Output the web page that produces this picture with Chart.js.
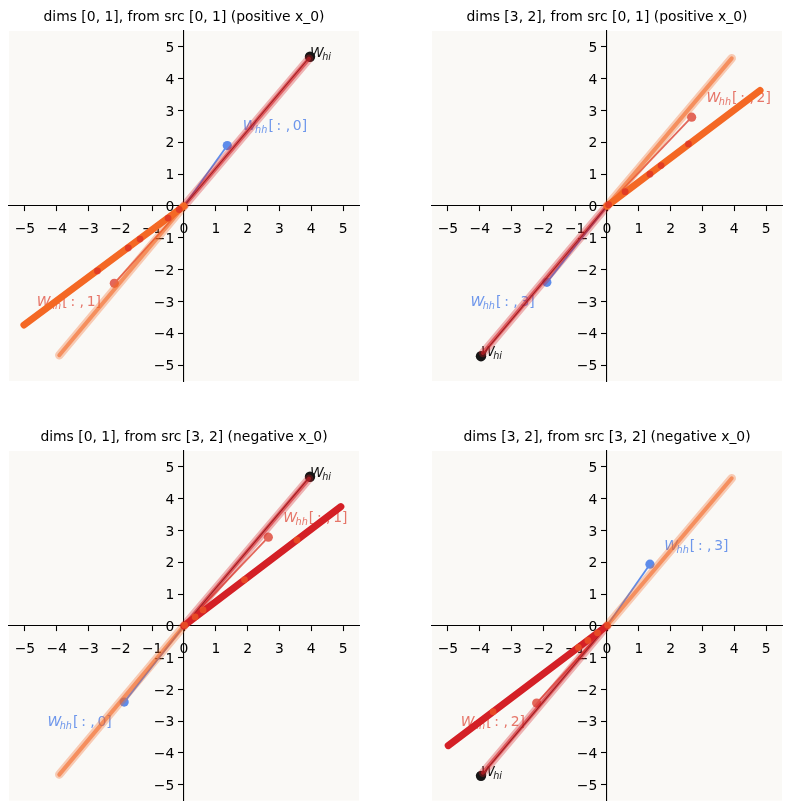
<!DOCTYPE html>
<html>
<head>
<meta charset="utf-8">
<title>hidden state trajectories</title>
<script src="https://cdn.jsdelivr.net/npm/chart.js@4.4.1/dist/chart.umd.min.js"></script>
<style>
    html, body { margin: 0; padding: 0; background: #ffffff; }
    body { width: 793px; height: 812px; position: relative; overflow: hidden; }
    canvas.panel { position: absolute; }
</style>
</head>
<body>
<canvas id="p0" class="panel" width="396" height="406" style="left:0px;top:0px;width:396px;height:406px"></canvas>
<canvas id="p1" class="panel" width="397" height="406" style="left:396px;top:0px;width:397px;height:406px"></canvas>
<canvas id="p2" class="panel" width="396" height="392" style="left:0px;top:420px;width:396px;height:392px"></canvas>
<canvas id="p3" class="panel" width="397" height="392" style="left:396px;top:420px;width:397px;height:392px"></canvas>
<script>
/* ============================================================================
   DATA
   ============================================================================ */
const panelTitles = [
    "dims [0, 1], from src [0, 1] (positive x_0)",
    "dims [3, 2], from src [0, 1] (positive x_0)",
    "dims [0, 1], from src [3, 2] (negative x_0)",
    "dims [3, 2], from src [3, 2] (negative x_0)"
];
const tickValues = [-5, -4, -3, -2, -1, 0, 1, 2, 3, 4, 5];

// W_hi projected on the two dims of each panel
const wHiPoints = [[3.96, 4.69], [-3.96, -4.72], [3.96, 4.69], [-3.96, -4.72]];

// W_hh columns (blue one and salmon one) + where their labels sit
const blueVecPoints = [[1.36, 1.90], [-1.89, -2.40], [-1.88, -2.40], [1.35, 1.94]];
const blueVecCols   = ["0", "3", "0", "3"];
const blueLabelPos  = [[1.85, 2.40], [-4.29, -3.15], [-4.29, -3.15], [1.80, 2.40]];

const redVecPoints  = [[-2.19, -2.43], [2.66, 2.79], [2.65, 2.79], [-2.21, -2.43]];
const redVecCols    = ["1", "2", "1", "2"];
const redLabelPos   = [[-4.63, -3.15], [3.13, 3.28], [3.12, 3.28], [-4.60, -3.15]];

// hidden-state trajectories (all start at the origin)
const mainTrajEnd    = [[-5.03, -3.74], [4.81, 3.63], [4.93, 3.75], [-4.99, -3.77]];
const mainTrajColor  = ["orange", "orange", "red", "red"];
const fadedUpEnd     = [[3.93, 4.63], [3.92, 4.64], [3.93, 4.63], [3.92, 4.64]];
const fadedUpColor   = ["red", "orange", "red", "orange"];
const fadedDownEnd   = [[-3.92, -4.69], [-3.90, -4.62], [-3.92, -4.68], [-3.90, -4.62]];
const fadedDownColor = ["orange", "red", "orange", "red"];

// odd-coloured time steps sitting on the main trajectory
const fleckPoints = [
    [[-0.15, -0.11], [-0.50, -0.38], [-1.38, -1.04], [-1.75, -1.32], [-2.72, -2.04]],
    [[0.05, 0.04], [0.57, 0.45], [1.35, 1.00], [1.70, 1.27], [2.56, 1.95]],
    [[0.02, 0.02], [0.35, 0.28], [0.60, 0.50], [1.90, 1.45], [3.55, 2.70]],
    [[0.02, 0.02], [-0.30, -0.22], [-0.60, -0.46], [-0.90, -0.68], [-3.58, -2.70]]
];
const fleckColor = ["red", "red", "orange", "orange"];

/* ============================================================================
   STYLE HELPERS
   ============================================================================ */
const COLORS = {
    orange: [244, 104, 36],
    red:    [212, 32, 38],
    blue:   [94, 140, 234],
    salmon: [227, 103, 90],
    black:  [22, 22, 22]
};

function rgba(name, a = 1) {
    const c = COLORS[name];
    return `rgba(${c[0]},${c[1]},${c[2]},${a})`;
}

function fromOrigin(p) {
    return [{ x: 0, y: 0 }, { x: p[0], y: p[1] }];
}

function fmtTick(v) {
    return v < 0 ? "\u2212" + Math.abs(v) : String(v);
}

Chart.defaults.font.family = "'DejaVu Sans', sans-serif";
Chart.defaults.color = "#000";
Chart.defaults.animation = false;

/* ============================================================================
   LABEL PLUGIN (W_hh / W_hi math-style labels)
   ============================================================================ */
function drawMathLabel(ctx, x, y, sub, rest, color) {
    ctx.fillStyle = color;
    ctx.textAlign = "left";
    ctx.textBaseline = "alphabetic";
    ctx.font = "italic 13.9px 'DejaVu Sans'";
    ctx.fillText("W", x, y);
    x += ctx.measureText("W").width - 1.5;
    ctx.font = "italic 9.7px 'DejaVu Sans'";
    ctx.fillText(sub, x, y + 3);
    x += ctx.measureText(sub).width;
    if (rest) {
        ctx.font = "13.9px 'DejaVu Sans'";
        ctx.fillText(rest, x + 1, y);
    }
}

const vectorLabels = {
    id: "vectorLabels",
    beforeDatasetsDraw(chart, args, opts) {
        const { ctx, scales: { x, y } } = chart;
        const i = opts.panel;
        ctx.save();
        drawMathLabel(ctx, x.getPixelForValue(blueLabelPos[i][0]), y.getPixelForValue(blueLabelPos[i][1]),
            "hh", "[\u2009: ,\u2009" + blueVecCols[i] + "]", rgba("blue", 0.9));
        drawMathLabel(ctx, x.getPixelForValue(redLabelPos[i][0]), y.getPixelForValue(redLabelPos[i][1]),
            "hh", "[\u2009: ,\u2009" + redVecCols[i] + "]", rgba("salmon", 0.9));
        drawMathLabel(ctx, x.getPixelForValue(wHiPoints[i][0]), y.getPixelForValue(wHiPoints[i][1]),
            "hi", "", rgba("black", 1));
        ctx.restore();
    }
};

const axesBackground = {
    id: "axesBackground",
    beforeDraw(chart) {
        const { ctx, chartArea: a } = chart;
        ctx.save();
        ctx.fillStyle = "#faf9f6";
        ctx.fillRect(a.left, a.top, a.right - a.left, a.bottom - a.top);
        ctx.restore();
    }
};

/* ============================================================================
   PANEL BUILDER
   ============================================================================ */
const panelPadding = [
    { left: 9,  right: 37, top: 0, bottom: 25 },
    { left: 36, right: 11, top: 0, bottom: 25 },
    { left: 9,  right: 37, top: 0, bottom: 11 },
    { left: 36, right: 11, top: 0, bottom: 11 }
];

function fadedLine(label, end, color, width, alpha) {
    return {
        label, data: fromOrigin(end),
        borderColor: rgba(color, alpha), borderWidth: width,
        borderCapStyle: "round", pointRadius: 0
    };
}

function renderPanel(i) {
    const datasets = [
        // top-most first
        {
            label: "flecks", data: fleckPoints[i].map(p => ({ x: p[0], y: p[1] })),
            showLine: false, pointRadius: 3.4, pointBorderWidth: 0,
            pointBackgroundColor: rgba(fleckColor[i], 0.6)
        },
        {
            label: "main", data: fromOrigin(mainTrajEnd[i]),
            borderColor: rgba(mainTrajColor[i], 1), borderWidth: 7,
            borderCapStyle: "round", pointRadius: 0
        },
        fadedLine("up core", fadedUpEnd[i], fadedUpColor[i], 4, 0.6),
        fadedLine("up halo", fadedUpEnd[i], fadedUpColor[i], 8.5, 0.32),
        fadedLine("down core", fadedDownEnd[i], fadedDownColor[i], 4, 0.6),
        fadedLine("down halo", fadedDownEnd[i], fadedDownColor[i], 8.5, 0.32),
        {
            label: "W_hi", data: fromOrigin(wHiPoints[i]),
            borderColor: rgba("black"), borderWidth: 1.1,
            pointRadius: [0, 5.2], pointBorderWidth: 0, pointBackgroundColor: rgba("black")
        },
        {
            label: "W_hh red", data: fromOrigin(redVecPoints[i]),
            borderColor: rgba("salmon"), borderWidth: 1.8,
            pointRadius: [0, 4.6], pointBorderWidth: 0, pointBackgroundColor: rgba("salmon")
        },
        {
            label: "W_hh blue", data: fromOrigin(blueVecPoints[i]),
            borderColor: rgba("blue"), borderWidth: 1.8,
            pointRadius: [0, 4.6], pointBorderWidth: 0, pointBackgroundColor: rgba("blue")
        }
    ];

    const axisCommon = {
        type: "linear",
        min: -5.5,
        max: 5.5,
        afterBuildTicks: s => { s.ticks = tickValues.map(v => ({ value: v })); },
        grid: { drawOnChartArea: false, drawTicks: true, tickLength: 5, tickColor: "#000", tickWidth: 1.1 },
        border: { display: true, color: "#000", width: 1.1 }
    };
    const tickFont = { size: 13.9 };

    new Chart(document.getElementById("p" + i), {
        type: "line",
        data: { datasets },
        options: {
            responsive: false,
            layout: { padding: panelPadding[i] },
            plugins: {
                legend: { display: false },
                tooltip: { enabled: false },
                title: {
                    display: true, text: panelTitles[i], color: "#000",
                    font: { size: 13.9, weight: "normal" },
                    padding: { top: 9.5, bottom: 4.8 }
                },
                vectorLabels: { panel: i }
            },
            scales: {
                x: Object.assign({}, axisCommon, {
                    position: { y: 0 },
                    afterFit: s => { s.height = 0; },
                    ticks: {
                        autoSkip: false, maxRotation: 0, color: "#000", font: tickFont,
                        padding: 10, callback: v => fmtTick(v)
                    }
                }),
                y: Object.assign({}, axisCommon, {
                    position: { x: 0 },
                    afterFit: s => { s.width = 0; },
                    ticks: {
                        autoSkip: false, color: "#000", font: tickFont, labelOffset: 1.5,
                        // centred axis: labels sit flush on the spine, so pad them with spaces
                        callback: v => fmtTick(v) + "\u2002\u2009"
                    }
                })
            }
        },
        plugins: [axesBackground, vectorLabels]
    });
}

for (let i = 0; i < 4; i++) renderPanel(i);
</script>
</body>
</html>
